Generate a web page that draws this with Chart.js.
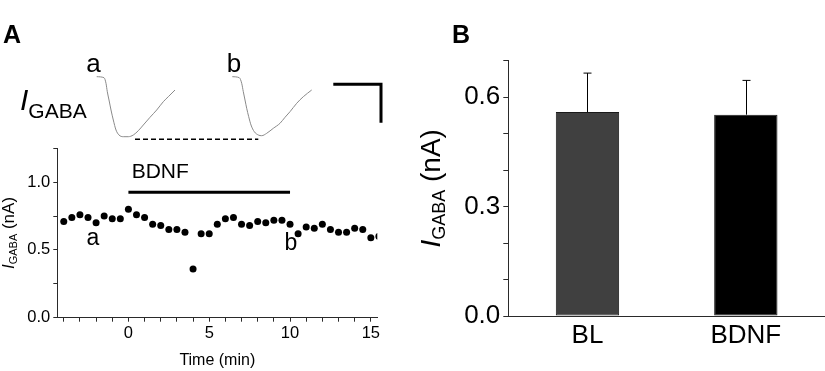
<!DOCTYPE html>
<html>
<head>
<meta charset="utf-8">
<script src="https://cdn.jsdelivr.net/npm/chart.js@4.4.1/dist/chart.umd.min.js"></script>
<style>
  html, body { margin: 0; padding: 0; background: #fff; }
  #wrap { position: relative; width: 825px; height: 371px; overflow: hidden; background: #fff; }
  canvas { position: absolute; }
</style>
</head>
<body>
<div id="wrap">
  <canvas id="traces" width="420" height="150" style="left:0;top:0"></canvas>
  <canvas id="timecourse" width="420" height="231" style="left:0;top:140px"></canvas>
  <canvas id="bars" width="425" height="371" style="left:400px;top:0"></canvas>
</div>
<script>
//-------------------------------------------------------------------
// data
//-------------------------------------------------------------------
// panel A, time course
const TIME_MIN = [-4, -3.5, -3, -2.5, -2, -1.5, -1, -0.5, 0, 0.5, 1, 1.5, 2, 2.5, 3, 3.5, 4, 4.5, 5, 5.5,
                  6, 6.5, 7, 7.5, 8, 8.5, 9, 9.5, 10, 10.5, 11, 11.5, 12, 12.5, 13, 13.5, 14, 14.5, 15, 15.5];
const IGABA_NA = [0.71, 0.74, 0.76, 0.74, 0.70, 0.75, 0.73, 0.73, 0.80, 0.76, 0.74, 0.69, 0.68, 0.65, 0.65, 0.63, 0.36, 0.62, 0.62, 0.69,
                  0.73, 0.74, 0.69, 0.68, 0.71, 0.70, 0.72, 0.72, 0.69, 0.62, 0.67, 0.66, 0.69, 0.65, 0.63, 0.63, 0.66, 0.65, 0.59, 0.60];
const BDNF_PERIOD = [0, 10];
const BDNF_BAR_LEVEL = 0.926;

// panel A, example currents (ms, pA)
const TRACE_A_T = [967, 1040, 1060, 1073, 1090, 1110, 1133, 1160, 1190, 1233, 1283, 1333, 1383, 1433, 1500, 1567, 1633, 1683, 1750];
const TRACE_A_I = [33, 23, -33, -117, -200, -300, -400, -500, -550, -567, -567, -550, -507, -450, -373, -300, -217, -167, -100];
const TRACE_B_T = [2323, 2393, 2417, 2433, 2450, 2467, 2487, 2510, 2543, 2583, 2617, 2667, 2733, 2800, 2850, 2900, 2967, 3033, 3117];
const TRACE_B_I = [33, 23, -33, -117, -200, -283, -367, -450, -517, -550, -557, -533, -483, -433, -373, -317, -233, -167, -100];
const PEAK_REF_T = [1350, 2583];
const PEAK_REF_I = -593;
const SCALEBAR_T = [3333, 3810, 3810];
const SCALEBAR_I = [-43, -43, -427];

// panel B
const GROUPS = ['BL', 'BDNF'];
const GROUP_MEAN = [0.559, 0.552];
const GROUP_SEM = [0.107, 0.094];
const GROUP_COLORS = ['#404040', '#000000'];

//-------------------------------------------------------------------
// defaults
//-------------------------------------------------------------------
const FONT = "'Liberation Sans', Arial, sans-serif";
Chart.defaults.font.family = FONT;
Chart.defaults.color = '#000';
Chart.defaults.devicePixelRatio = 1;

const AXIS_COLOR = '#2a2a2a';

// draws a run of text pieces (for the I_GABA subscripts)
function drawRich(ctx, x, y, parts, rotate) {
  ctx.save();
  ctx.translate(x, y);
  if (rotate) ctx.rotate(-Math.PI / 2);
  let total = 0;
  parts.forEach(p => { ctx.font = p.font; p.w = ctx.measureText(p.text).width; total += p.w; });
  let cx = rotate ? -total / 2 : 0;
  ctx.textBaseline = 'alphabetic';
  ctx.textAlign = 'left';
  ctx.fillStyle = '#000';
  parts.forEach(p => {
    ctx.font = p.font;
    ctx.fillText(p.text, cx, p.dy || 0);
    cx += p.w;
  });
  ctx.restore();
}

function xy(xs, ys) {
  return xs.map((x, i) => ({ x: x, y: Array.isArray(ys) ? ys[i] : ys }));
}

//-------------------------------------------------------------------
// panel A, traces
//-------------------------------------------------------------------
const traceLabels = {
  id: 'traceLabels',
  afterDraw(chart) {
    const ctx = chart.ctx;
    ctx.save();
    ctx.fillStyle = '#000';
    ctx.textBaseline = 'alphabetic';
    ctx.font = 'bold 25px ' + FONT;
    ctx.textAlign = 'left';
    ctx.fillText('A', 3, 43);
    ctx.font = '26px ' + FONT;
    ctx.textAlign = 'center';
    ctx.fillText('a', 93.5, 72);
    ctx.fillText('b', 234, 72);
    ctx.restore();
    drawRich(ctx, 20, 110, [
      { text: 'I', font: 'italic 30px ' + FONT },
      { text: 'GABA', font: '21px ' + FONT, dy: 8 }
    ], false);
  }
};

new Chart(document.getElementById('traces'), {
  type: 'scatter',
  data: {
    datasets: [
      { data: xy(TRACE_A_T, TRACE_A_I), showLine: true, borderColor: '#8a8a8a', borderWidth: 1, pointRadius: 0, cubicInterpolationMode: 'monotone' },
      { data: xy(TRACE_B_T, TRACE_B_I), showLine: true, borderColor: '#8a8a8a', borderWidth: 1, pointRadius: 0, cubicInterpolationMode: 'monotone' },
      { data: xy(PEAK_REF_T, PEAK_REF_I), showLine: true, borderColor: '#000', borderWidth: 1.5, borderDash: [5, 3], pointRadius: 0 },
      { data: xy(SCALEBAR_T, SCALEBAR_I), showLine: true, borderColor: '#000', borderWidth: 3, pointRadius: 0, borderJoinStyle: 'miter' }
    ]
  },
  options: {
    responsive: false,
    animation: false,
    layout: { padding: 0 },
    plugins: { legend: { display: false }, tooltip: { enabled: false } },
    scales: {
      x: { type: 'linear', min: 0, max: 4200, display: false },
      y: { type: 'linear', min: -700, max: 800, display: false }
    }
  },
  plugins: [traceLabels]
});

//-------------------------------------------------------------------
// panel A, time course
//-------------------------------------------------------------------
const timecourseText = {
  id: 'timecourseText',
  afterDraw(chart) {
    const ctx = chart.ctx;
    const xs = chart.scales.x, ys = chart.scales.y;
    const area = chart.chartArea;
    ctx.save();
    ctx.fillStyle = '#000';
    ctx.textBaseline = 'alphabetic';
    ctx.font = '23px ' + FONT;
    ctx.textAlign = 'center';
    ctx.fillText('a', xs.getPixelForValue(-2.19), ys.getPixelForValue(0.54));
    ctx.fillText('b', xs.getPixelForValue(10.06), ys.getPixelForValue(0.50));
    ctx.font = '21px ' + FONT;
    ctx.textAlign = 'left';
    ctx.fillText('BDNF', xs.getPixelForValue(0.2), ys.getPixelForValue(1.033));
    ctx.font = '16px ' + FONT;
    ctx.textAlign = 'center';
    ctx.fillText('Time (min)', (area.left + area.right) / 2, area.bottom + 47);
    ctx.restore();
    drawRich(ctx, 14.4, (area.top + area.bottom) / 2, [
      { text: 'I', font: 'italic 17px ' + FONT },
      { text: 'GABA', font: '11px ' + FONT, dy: 3 },
      { text: ' (nA)', font: '17px ' + FONT }
    ], true);
  }
};

new Chart(document.getElementById('timecourse'), {
  type: 'scatter',
  data: {
    datasets: [
      { data: xy(BDNF_PERIOD, BDNF_BAR_LEVEL), showLine: true, borderColor: '#000', borderWidth: 3, pointRadius: 0 },
      { data: xy(TIME_MIN, IGABA_NA), pointRadius: 3.5, backgroundColor: '#000', borderWidth: 0, clip: 0 }
    ]
  },
  options: {
    responsive: false,
    animation: false,
    layout: { padding: { top: 8.3, right: 42.7, left: 0, bottom: 0 } },
    plugins: { legend: { display: false }, tooltip: { enabled: false } },
    scales: {
      x: {
        type: 'linear', min: -4.4, max: 15.4,
        ticks: {
          stepSize: 1, includeBounds: false, autoSkip: false, maxRotation: 0,
          callback: v => (v % 5 === 0 ? String(v) : ''),
          font: { size: 16.5 }, padding: 2
        },
        grid: { drawOnChartArea: false, tickLength: 4, color: AXIS_COLOR },
        border: { color: AXIS_COLOR, width: 1 },
        afterFit(s) { s.height = 53.3; s.paddingLeft = 0; s.paddingRight = 0; }
      },
      y: {
        type: 'linear', min: 0, max: 1.25,
        ticks: {
          stepSize: 0.25, autoSkip: false,
          callback: v => (Math.round(v * 4) % 2 === 0 ? v.toFixed(1) : ''),
          font: { size: 16.5 }, padding: 3
        },
        grid: { drawOnChartArea: false, tickLength: 4, color: AXIS_COLOR },
        border: { color: AXIS_COLOR, width: 1 },
        afterFit(s) { s.width = 57.3; s.paddingTop = 0; s.paddingBottom = 0; }
      }
    }
  },
  plugins: [timecourseText]
});

//-------------------------------------------------------------------
// panel B, bars
//-------------------------------------------------------------------
const errorBars = {
  id: 'errorBars',
  afterDatasetsDraw(chart) {
    const ctx = chart.ctx;
    const ys = chart.scales.y;
    const meta = chart.getDatasetMeta(0);
    ctx.save();
    ctx.strokeStyle = '#000';
    ctx.lineWidth = 1;
    meta.data.forEach((bar, i) => {
      const x = Math.round(bar.x) + 0.5;
      const yTop = ys.getPixelForValue(GROUP_MEAN[i] + GROUP_SEM[i]);
      const yMean = ys.getPixelForValue(GROUP_MEAN[i]);
      ctx.beginPath();
      ctx.moveTo(x, yMean);
      ctx.lineTo(x, yTop);
      ctx.moveTo(x - 4, yTop);
      ctx.lineTo(x + 4, yTop);
      ctx.stroke();
    });
    ctx.restore();
  },
  afterDraw(chart) {
    const ctx = chart.ctx;
    const area = chart.chartArea;
    ctx.save();
    ctx.fillStyle = '#000';
    ctx.font = 'bold 25px ' + FONT;
    ctx.textBaseline = 'alphabetic';
    ctx.textAlign = 'left';
    ctx.fillText('B', 52, 43);
    ctx.restore();
    drawRich(ctx, 40, (area.top + area.bottom) / 2, [
      { text: 'I', font: 'italic 28px ' + FONT },
      { text: 'GABA', font: '18px ' + FONT, dy: 5 },
      { text: ' (nA)', font: '28px ' + FONT }
    ], true);
  }
};

new Chart(document.getElementById('bars'), {
  type: 'bar',
  data: {
    labels: GROUPS,
    datasets: [{
      data: GROUP_MEAN,
      backgroundColor: GROUP_COLORS,
      borderColor: '#1a1a1a',
      borderWidth: 1,
      borderSkipped: false,
      barPercentage: 0.4,
      categoryPercentage: 1.0
    }]
  },
  options: {
    responsive: false,
    animation: false,
    layout: { padding: { top: 60.7, right: 0, left: 0, bottom: 0 } },
    plugins: { legend: { display: false }, tooltip: { enabled: false } },
    scales: {
      x: {
        ticks: { font: { size: 26 }, padding: 4, maxRotation: 0 },
        grid: { display: false, drawTicks: false },
        border: { color: AXIS_COLOR, width: 1 },
        afterFit(s) { s.height = 55; s.paddingLeft = 0; s.paddingRight = 0; }
      },
      y: {
        min: 0, max: 0.7,
        ticks: {
          stepSize: 0.1, autoSkip: false,
          callback: v => (Math.round(v * 10) % 3 === 0 ? v.toFixed(1) : ''),
          font: { size: 26 }, padding: 3
        },
        grid: { drawOnChartArea: false, tickLength: 5, color: AXIS_COLOR },
        border: { color: AXIS_COLOR, width: 1 },
        afterFit(s) { s.width = 108.3; s.paddingTop = 0; s.paddingBottom = 0; }
      }
    }
  },
  plugins: [errorBars]
});
</script>
</body>
</html>
